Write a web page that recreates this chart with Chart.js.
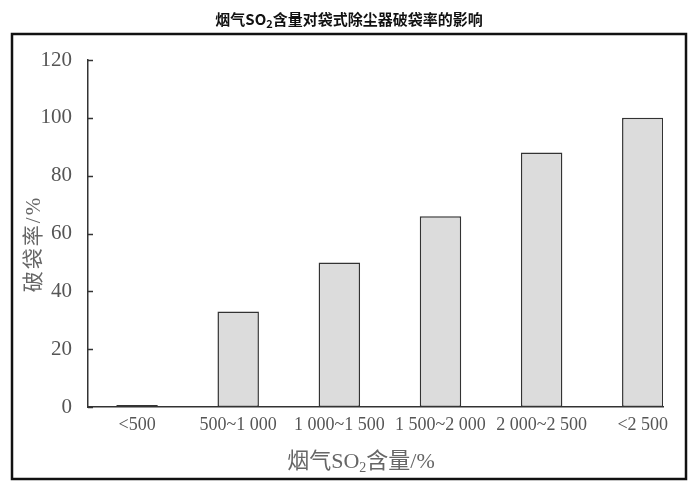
<!DOCTYPE html>
<html>
<head>
<meta charset="utf-8">
<script src="https://cdn.jsdelivr.net/npm/chart.js@4.4.0/dist/chart.umd.min.js"></script>
<style>
  html, body { margin: 0; padding: 0; background: #fff; }
  #wrap { width: 699px; height: 489px; }
</style>
</head>
<body>
<div id="wrap"><canvas id="chart" width="699" height="489"></canvas></div>
<script>
const categories = ['<500', '500~1 000', '1 000~1 500', '1 500~2 000', '2 000~2 500', '<2 500'];
const breakRate = [0, 33, 50, 66, 88, 100];
const yMax = 120;
const yStep = 20;

const SERIF = '"Liberation Serif", "Noto Sans CJK SC", serif';

// draws a line of text with a subscript piece, centred on cx
function drawRich(ctx, parts, cx, baseline, color) {
    ctx.fillStyle = color;
    ctx.textBaseline = 'alphabetic';
    ctx.textAlign = 'left';
    let total = 0;
    parts.forEach(p => { ctx.font = p.font; total += ctx.measureText(p.text).width; });
    let x = cx - total / 2;
    parts.forEach(p => {
        ctx.font = p.font;
        ctx.fillText(p.text, x, baseline + (p.dy || 0));
        x += ctx.measureText(p.text).width;
    });
}

const decor = {
    id: 'decor',
    afterDraw(chart) {
        const ctx = chart.ctx;
        const y = chart.scales.y;
        ctx.save();
        // tick marks pointing into the plot
        ctx.strokeStyle = '#333';
        ctx.lineWidth = 1.5;
        y.ticks.forEach(t => {
            const py = Math.round(y.getPixelForValue(t.value)) + 0.5;
            ctx.beginPath();
            ctx.moveTo(y.right, py);
            ctx.lineTo(y.right + 5, py);
            ctx.stroke();
        });
        // frame
        ctx.lineWidth = 2.5;
        ctx.strokeStyle = '#111';
        ctx.strokeRect(12, 34, 674, 445);

        const bold = 'bold 15px "Noto Sans CJK SC", sans-serif';
        drawRich(ctx, [
            { text: '烟气SO', font: bold },
            { text: '2', font: 'bold 11px "Noto Sans CJK SC", sans-serif', dy: 3 },
            { text: '含量对袋式除尘器破袋率的影响', font: bold }
        ], 349, 25, '#111');

        const f = '22px ' + SERIF;
        drawRich(ctx, [
            { text: '烟气SO', font: f },
            { text: '2', font: '14px ' + SERIF, dy: 4 },
            { text: '含量/%', font: f }
        ], 361, 468, '#666');

        // y axis title, rotated
        ctx.translate(40, 244);
        ctx.rotate(-Math.PI / 2);
        ctx.letterSpacing = '2px';
        drawRich(ctx, [{ text: '破袋率/%', font: '21px ' + SERIF }], 0, 0, '#666');
        ctx.restore();
    }
};

new Chart(document.getElementById('chart'), {
    type: 'bar',
    data: {
        datasets: [{
            data: breakRate.map((v, i) => ({ x: i, y: v })),
            backgroundColor: '#dcdcdc',
            borderColor: '#333',
            borderWidth: 1.5,
            borderSkipped: false,
            minBarLength: 2,
            barPercentage: 0.41,
            categoryPercentage: 1
        }]
    },
    options: {
        responsive: false,
        devicePixelRatio: 1,
        animation: false,
        layout: { padding: { left: 0, right: 36, top: 60, bottom: 52 } },
        plugins: {
            legend: { display: false },
            tooltip: { enabled: false }
        },
        scales: {
            x: {
                type: 'linear',
                offset: false,
                min: -0.485,
                max: 5.2,
                afterBuildTicks: s => { s.ticks = categories.map((_, i) => ({ value: i })); },
                afterFit: s => { s.height = 30; },
                grid: { display: false },
                border: { display: true, color: '#333', width: 1.5 },
                ticks: {
                    autoSkip: false,
                    maxRotation: 0,
                    padding: -1,
                    color: '#555',
                    font: { family: SERIF, size: 18 },
                    callback: v => categories[v]
                }
            },
            y: {
                min: 0,
                max: yMax,
                afterFit: s => { s.width = 88; },
                grid: { display: false },
                border: { display: true, color: '#333', width: 1.5 },
                ticks: {
                    stepSize: yStep,
                    padding: 8,
                    color: '#555',
                    font: { family: SERIF, size: 21 }
                }
            }
        }
    },
    plugins: [decor]
});
</script>
</body>
</html>
